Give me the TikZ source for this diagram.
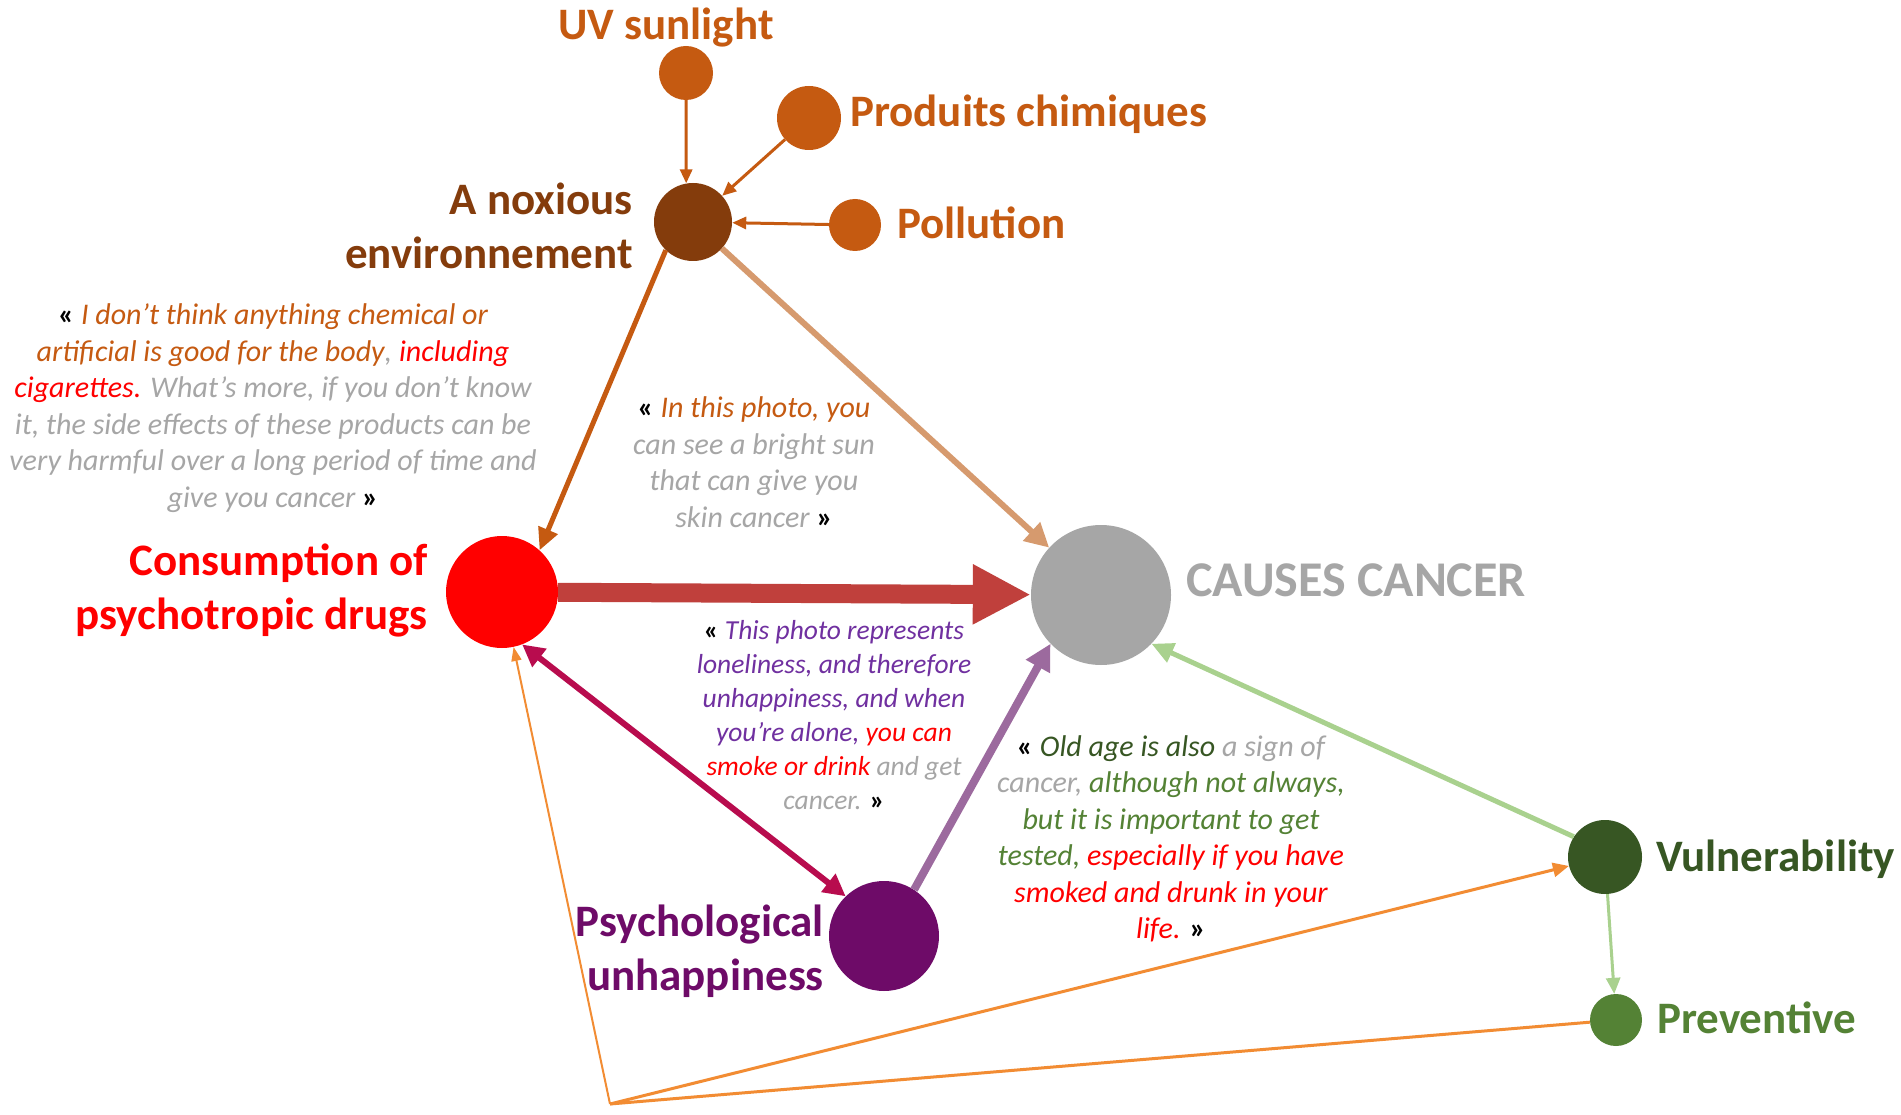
\documentclass[tikz,border=0pt]{standalone}
\usepackage{fontspec}
\setmainfont{Carlito}
\usetikzlibrary{arrows.meta}
\definecolor{cOr}{HTML}{C55A11}
\definecolor{cBr}{HTML}{843C0C}
\definecolor{cRd}{HTML}{FF0000}
\definecolor{cGr}{HTML}{A6A6A6}
\definecolor{cPu}{HTML}{6E0B68}
\definecolor{cQP}{HTML}{7030A0}
\definecolor{cDG}{HTML}{375623}
\definecolor{cMG}{HTML}{548235}
\definecolor{cLG}{HTML}{A9D18E}
\definecolor{cTan}{HTML}{D69A6E}
\definecolor{cRA}{HTML}{C0403C}
\definecolor{cCr}{HTML}{B80C4E}
\definecolor{cLP}{HTML}{9C6A9E}
\definecolor{cOL}{HTML}{F28C33}
\newcommand{\qopen}{{\bfseries\upshape\color{black}«}}
\newcommand{\qclose}{{\bfseries\upshape\color{black}»}}
\begin{document}
\begin{tikzpicture}[x=1pt,y=-1pt,
  circ/.style={circle,inner sep=0pt,minimum size=#1},
  lab/.style={inner sep=0pt,font=\fontsize{45}{54}\selectfont\bfseries},
  quote/.style={inner sep=0pt,align=center,text=cGr,font=\fontsize{30}{36.5}\selectfont\itshape},
  tip/.style 2 args={-{Triangle[length=#1pt,width=#2pt]}},
]
\fill[white] (0,0) rectangle (1901,1115);
\useasboundingbox (0,0) rectangle (1901,1115);

% nodes
\node[circ=54pt,fill=cOr] (uv) at (686,73) {};
\node[circ=64pt,fill=cOr] (prod) at (809,118) {};
\node[circ=78pt,fill=cBr] (nox) at (693,222) {};
\node[circ=52pt,fill=cOr] (pol) at (855,225) {};
\node[circ=112pt,fill=cRd] (cons) at (502,592) {};
\node[circ=140pt,fill=cGr] (can) at (1101,595) {};
\node[circ=110pt,fill=cPu] (psy) at (884,936) {};
\node[circ=74pt,fill=cDG] (vul) at (1605,857) {};
\node[circ=52pt,fill=cMG] (pre) at (1616,1020) {};
\coordinate (m) at (610,1104);

% connectors
\draw[cOr,line width=3pt,tip={14}{12}] (uv.south) -- (nox.100);
\draw[cOr,line width=3pt,tip={14}{12}] (prod) -- (nox);
\draw[cOr,line width=3pt,tip={14}{12}] (pol) -- (nox);
\draw[cOr,line width=5pt,tip={22}{20}] (nox.226) -- (cons.48);
\draw[cTan,line width=6pt,tip={24}{24}] (nox) -- (can);
\draw[cRA,line width=19pt,tip={58}{56}] (cons) -- (can);
\draw[cCr,line width=6pt,{Triangle[length=22pt,width=22pt]}-{Triangle[length=22pt,width=22pt]}] (cons.291) -- (psy.134);
\draw[cLP,line width=8pt,tip={26}{26}] (psy.57) -- (can.224);
\draw[cLG,line width=5pt,tip={22}{20}] (vul.147) -- (can.316);
\draw[cLG,line width=3pt,tip={16}{14}] (vul) -- (pre);
\draw[cOL,line width=2pt,tip={14}{10}] (m) -- (cons);
\draw[cOL,line width=3pt,tip={16}{14}] (m) -- (vul);
\draw[cOL,line width=3pt] (m) -- (pre);

% labels
\node[lab,text=cOr] (uvl) at (666,28) {UV sunlight};
\node[lab,text=cOr,anchor=west] (prodl) at (850,114) {Produits chimiques};
\node[lab,text=cBr,anchor=east,align=right] (noxl) at (633,226) {A noxious\\environnement};
\node[lab,text=cOr,anchor=west] (poll) at (897,223) {Pollution};
\node[lab,text=cRd,anchor=east,align=right] (consl) at (428,590) {Consumption of\\psychotropic drugs};
\node[lab,text=cGr,anchor=west,font=\fontsize{50}{58}\selectfont\bfseries] (canl) at (1186,580) {CAUSES CANCER};
\node[lab,text=cPu,anchor=east,align=right] (psyl) at (824,951) {Psychological\\unhappiness};
\node[lab,text=cDG,anchor=west] (vull) at (1656,859) {Vulnerability};
\node[lab,text=cMG,anchor=west] (prel) at (1657,1018) {Preventive};

% quotes
\node[quote] (q1) at (273,408) {\qopen{} \color{cOr}I don't think anything chemical or\\
\color{cOr}artificial is good for the body\color{cGr}, \color{cRd}including\\
\color{cRd}cigarettes. \color{cGr}What's more, if you don't know\\
it, the side effects of these products can be\\
very harmful over a long period of time and\\
give you cancer \qclose};
\node[quote] (q2) at (754,462) {\qopen{} \color{cOr}In this photo, you\\
can see a bright sun\\
that can give you\\
skin cancer \qclose};
\node[quote,font=\fontsize{27.5}{34}\selectfont\itshape] (q3) at (834,715) {\qopen{} \color{cQP}This photo represents\\
\color{cQP}loneliness, and therefore\\
\color{cQP}unhappiness, and when\\
\color{cQP}you're alone, \color{cRd}you can\\
\color{cRd}smoke or drink \color{cGr}and get\\
cancer. \qclose};
\node[quote] (q4) at (1171,839) {\qopen{} \color{cDG}Old age is also \color{cGr}a sign of\\
cancer, \color{cMG}although not always,\\
\color{cMG}but it is important to get\\
\color{cMG}tested, \color{cRd}especially if you have\\
\color{cRd}smoked and drunk in your\\
\color{cRd}life. \qclose};
\end{tikzpicture}
\end{document}
